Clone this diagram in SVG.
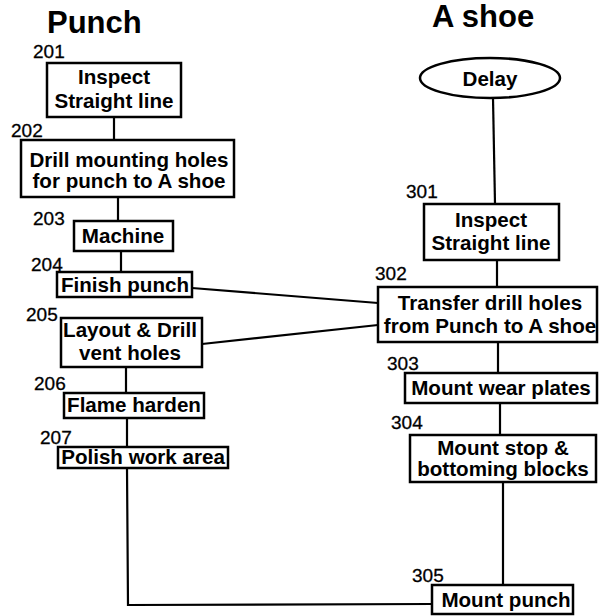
<svg xmlns="http://www.w3.org/2000/svg" width="599" height="616" viewBox="0 0 599 616">
  <style>
    .box { fill: #fff; stroke: #000; stroke-width: 2.5; }
    .link { fill: none; stroke: #000; stroke-width: 2.2; }
    .t { font-family: "Liberation Sans", Arial, sans-serif; font-weight: bold; font-size: 20.6px; text-anchor: middle; fill: #000; }
    .num { font-family: "Liberation Sans", Arial, sans-serif; font-size: 19px; fill: #000; stroke: #000; stroke-width: 0.3; }
    .title { font-family: "Liberation Sans", Arial, sans-serif; font-weight: bold; font-size: 31px; fill: #000; }
  </style>
  <rect width="599" height="616" fill="#fff"/>

  <text class="title" x="47" y="33">Punch</text>
  <text class="title" x="432" y="27">A shoe</text>

  <!-- connectors -->
  <g id="connectors">
    <line class="link" x1="114" y1="117" x2="114" y2="140"/>
    <line class="link" x1="118" y1="197" x2="118" y2="221"/>
    <line class="link" x1="121" y1="251" x2="121" y2="272"/>
    <line class="link" x1="126" y1="367" x2="126" y2="393"/>
    <line class="link" x1="127" y1="418" x2="127" y2="447"/>
    <polyline class="link" points="127,468 128,605 432,604"/>
    <line class="link" x1="192" y1="288" x2="378" y2="303"/>
    <line class="link" x1="202" y1="344" x2="378" y2="325"/>
    <line class="link" x1="493" y1="98" x2="495" y2="204"/>
    <line class="link" x1="497" y1="260" x2="497" y2="287"/>
    <line class="link" x1="498" y1="342" x2="498" y2="373"/>
    <line class="link" x1="500" y1="403" x2="500" y2="435"/>
    <line class="link" x1="503" y1="482" x2="503" y2="585"/>
  </g>

  <!-- punch column -->
  <g id="n201">
    <text class="num" x="33" y="58">201</text>
    <rect class="box" x="47" y="63" width="134" height="54"/>
    <text class="t" x="114" y="84">Inspect</text>
    <text class="t" x="114" y="108">Straight line</text>
  </g>
  <g id="n202">
    <text class="num" x="11" y="137">202</text>
    <rect class="box" x="21" y="140" width="213" height="57"/>
    <text class="t" x="129" y="167">Drill mounting holes</text>
    <text class="t" x="129" y="188">for punch to A shoe</text>
  </g>
  <g id="n203">
    <text class="num" x="33" y="225">203</text>
    <rect class="box" x="74" y="221" width="99" height="30"/>
    <text class="t" x="123" y="243">Machine</text>
  </g>
  <g id="n204">
    <text class="num" x="31" y="271">204</text>
    <rect class="box" x="57" y="272" width="135" height="25"/>
    <text class="t" x="125" y="292">Finish punch</text>
  </g>
  <g id="n205">
    <text class="num" x="26" y="321">205</text>
    <rect class="box" x="61" y="318" width="141" height="49"/>
    <text class="t" x="130" y="337">Layout &amp; Drill</text>
    <text class="t" x="130" y="360">vent holes</text>
  </g>
  <g id="n206">
    <text class="num" x="34" y="390">206</text>
    <rect class="box" x="64" y="393" width="140" height="25"/>
    <text class="t" x="134" y="412">Flame harden</text>
  </g>
  <g id="n207">
    <text class="num" x="40" y="444">207</text>
    <rect class="box" x="58" y="447" width="170" height="21"/>
    <text class="t" x="143" y="464">Polish work area</text>
  </g>

  <!-- A shoe column -->
  <g id="delay">
    <ellipse class="box" cx="490" cy="78" rx="70" ry="20"/>
    <text class="t" x="490" y="86">Delay</text>
  </g>
  <g id="n301">
    <text class="num" x="406" y="198">301</text>
    <rect class="box" x="424" y="204" width="135" height="56"/>
    <text class="t" x="491" y="227">Inspect</text>
    <text class="t" x="491" y="250">Straight line</text>
  </g>
  <g id="n302">
    <text class="num" x="375" y="280">302</text>
    <rect class="box" x="378" y="287" width="219" height="55"/>
    <text class="t" x="490" y="310">Transfer drill holes</text>
    <text class="t" x="490" y="333">from Punch to A shoe</text>
  </g>
  <g id="n303">
    <text class="num" x="387" y="370">303</text>
    <rect class="box" x="405" y="373" width="192" height="30"/>
    <text class="t" x="501" y="395">Mount wear plates</text>
  </g>
  <g id="n304">
    <text class="num" x="391" y="429">304</text>
    <rect class="box" x="410" y="435" width="186" height="47"/>
    <text class="t" x="503" y="455">Mount stop &amp;</text>
    <text class="t" x="503" y="476">bottoming blocks</text>
  </g>
  <g id="n305">
    <text class="num" x="412" y="582">305</text>
    <rect class="box" x="432" y="585" width="141" height="29"/>
    <text class="t" x="506" y="607">Mount punch</text>
  </g>
</svg>
